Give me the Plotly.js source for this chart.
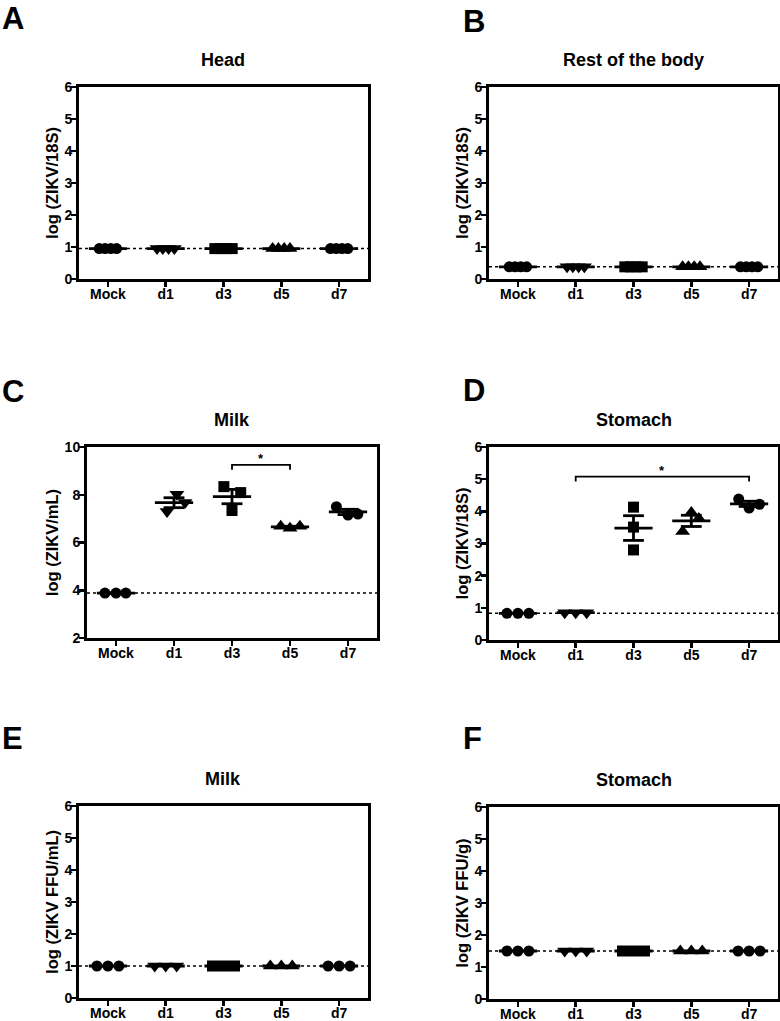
<!DOCTYPE html>
<html>
<head>
<meta charset="utf-8">
<script src="https://cdn.plot.ly/plotly-3.0.1.min.js"></script>
<style>html,body{margin:0;padding:0;background:#fff;}#chart{width:780px;height:1021px;}</style>
</head>
<body>
<div id="chart"></div>
<script>
// ---------------- DATA ----------------
const categories = ['Mock', 'd1', 'd3', 'd5', 'd7'];
const symbols = ['circle', 'triangle-down', 'square', 'triangle-up', 'circle'];

// A: Head, log (ZIKV/18S)
const headValues = [
  [0.95, 0.95, 0.95, 0.95],
  [0.95, 0.95, 0.95, 0.95],
  [0.95, 0.95, 0.95, 0.95],
  [0.95, 0.95, 0.95, 0.95],
  [0.95, 0.95, 0.95, 0.95]
];
const headLimit = 0.95;

// B: Rest of the body, log (ZIKV/18S)
const bodyValues = [
  [0.38, 0.38, 0.38, 0.38],
  [0.38, 0.38, 0.38, 0.38],
  [0.38, 0.38, 0.38, 0.38],
  [0.38, 0.38, 0.38, 0.38],
  [0.38, 0.38, 0.38, 0.38]
];
const bodyLimit = 0.38;

// C: Milk, log (ZIKV/mL)
const milkRnaValues = [
  [3.88, 3.88, 3.88],
  [7.30, 8.02, 7.68],
  [8.34, 8.09, 7.34],
  [6.68, 6.60, 6.68],
  [7.50, 7.15, 7.19]
];
const milkRnaLimit = 3.88;
const milkRnaSig = [2, 3, 9.25];      // from group, to group, bracket level

// D: Stomach, log (ZIKV/18S)
const stomachRnaValues = [
  [0.83, 0.83, 0.83],
  [0.85, 0.85, 0.85],
  [4.13, 3.51, 2.80],
  [3.37, 3.96, 3.78],
  [4.38, 4.10, 4.22]
];
const stomachRnaLimit = 0.83;
const stomachRnaSig = [1, 4, 5.08];

// E: Milk, log (ZIKV FFU/mL)
const milkFfuValues = [
  [1.0, 1.0, 1.0],
  [1.0, 1.0, 1.0],
  [1.0, 1.0, 1.0],
  [1.0, 1.0, 1.0],
  [1.0, 1.0, 1.0]
];
const milkFfuLimit = 1.0;

// F: Stomach, log (ZIKV FFU/g)
const stomachFfuValues = [
  [1.5, 1.5, 1.5],
  [1.5, 1.5, 1.5],
  [1.5, 1.5, 1.5],
  [1.5, 1.5, 1.5],
  [1.5, 1.5, 1.5]
];
const stomachFfuLimit = 1.5;

// ---------------- STYLE (point spread within a group) ----------------
const spread4 = [-0.15, -0.05, 0.05, 0.15];
const spread3 = [-0.19, 0, 0.19];
const spreadC = [[-0.19, 0, 0.17], [-0.12, 0.05, 0.19], [-0.14, 0.15, 0], [-0.16, 0, 0.17], [-0.2, 0, 0.17]];
const spreadD = [spread3, spread3, [0, 0, 0], [-0.15, 0, 0.13], [-0.18, 0, 0.18]];
const markerSize = {'circle': 11, 'square': 11, 'triangle-down': 13, 'triangle-up': 13};

const W = 780, H = 1021;
const FONT = 'Liberation Sans, Arial, sans-serif';

const panels = [
  {letter: 'A', title: 'Head', ytitle: 'log (ZIKV/18S)', values: headValues, limit: headLimit, range: [0, 6], dtick: 1,
   box: [79, 368, 87, 279], spread: () => spread4, letterPos: [0, 19]},
  {letter: 'B', title: 'Rest of the body', ytitle: 'log (ZIKV/18S)', values: bodyValues, limit: bodyLimit, range: [0, 6], dtick: 1,
   box: [489, 778, 87, 279], spread: () => spread4, letterPos: [461, 21]},
  {letter: 'C', title: 'Milk', ytitle: 'log (ZIKV/mL)', values: milkRnaValues, limit: milkRnaLimit, range: [2, 10], dtick: 2,
   box: [87, 377, 447, 638], spread: g => spreadC[g], letterPos: [0, 392], sig: milkRnaSig},
  {letter: 'D', title: 'Stomach', ytitle: 'log (ZIKV/18S)', values: stomachRnaValues, limit: stomachRnaLimit, range: [0, 6], dtick: 1,
   box: [489, 778, 447, 640], spread: g => spreadD[g], letterPos: [461, 391], sig: stomachRnaSig},
  {letter: 'E', title: 'Milk', ytitle: 'log (ZIKV FFU/mL)', values: milkFfuValues, limit: milkFfuLimit, range: [0, 6], dtick: 1,
   box: [79, 368, 806, 998], spread: () => spread3, letterPos: [0, 738]},
  {letter: 'F', title: 'Stomach', ytitle: 'log (ZIKV FFU/g)', values: stomachFfuValues, limit: stomachFfuLimit, range: [0, 6], dtick: 1,
   box: [489, 778, 807, 999], spread: () => spread3, letterPos: [461, 738]}
];

const traces = [];
const layout = {
  width: W, height: H, margin: {l: 0, r: 0, t: 0, b: 0},
  paper_bgcolor: '#fff', plot_bgcolor: '#fff', showlegend: false,
  font: {family: FONT, color: '#000'},
  annotations: []
};

function mean(a) { return a.reduce((s, v) => s + v, 0) / a.length; }
function sem(a) {
  const m = mean(a);
  const v = a.reduce((s, x) => s + (x - m) * (x - m), 0) / (a.length - 1);
  return Math.sqrt(v) / Math.sqrt(a.length);
}

panels.forEach((p, i) => {
  const n = i + 1;
  const xa = 'x' + (n === 1 ? '' : n), ya = 'y' + (n === 1 ? '' : n);
  const xk = 'xaxis' + (n === 1 ? '' : n), yk = 'yaxis' + (n === 1 ? '' : n);
  const [l, r, t, b] = p.box;

  layout[xk] = {
    domain: [l / W, r / W], anchor: ya, range: [-0.5, 4.5],
    tickvals: [0, 1, 2, 3, 4], ticktext: categories,
    ticks: 'outside', ticklen: 5, tickwidth: 2.5, tickcolor: '#000',
    ticklabelstandoff: -5,
    showline: true, linewidth: 3, linecolor: '#000', mirror: true,
    showgrid: false, zeroline: false, fixedrange: true,
    tickfont: {family: FONT, size: 14, weight: 'bold', color: '#000'}
  };
  layout[yk] = {
    domain: [1 - b / H, 1 - t / H], anchor: xa, range: p.range, dtick: p.dtick, tick0: 0,
    ticks: 'outside', ticklen: 5, tickwidth: 2.5, tickcolor: '#000',
    ticklabelstandoff: -4,
    showline: true, linewidth: 3, linecolor: '#000', mirror: true,
    showgrid: false, zeroline: false, fixedrange: true,
    tickfont: {family: FONT, size: 14, weight: 'bold', color: '#000'},
    title: {text: p.ytitle, standoff: 2, font: {family: FONT, size: 16.5, weight: 'bold', color: '#000'}}
  };

  // limit of detection (dotted line)
  traces.push({
    type: 'scatter', mode: 'lines', xaxis: xa, yaxis: ya,
    x: [-0.5, 4.5], y: [p.limit, p.limit], hoverinfo: 'skip',
    line: {color: '#000', width: 1.5, dash: 'dot'}
  });

  p.values.forEach((vals, g) => {
    const sp = p.spread(g);
    const m = mean(vals), s = sem(vals);
    // mean line
    traces.push({
      type: 'scatter', mode: 'lines', xaxis: xa, yaxis: ya, hoverinfo: 'skip',
      x: [g - 0.33, g + 0.33], y: [m, m], line: {color: '#000', width: 2.8}
    });
    // SEM bars
    if (s > 0) {
      traces.push({
        type: 'scatter', mode: 'lines', xaxis: xa, yaxis: ya, hoverinfo: 'skip',
        x: [g - 0.18, g + 0.18, null, g, g, null, g - 0.18, g + 0.18],
        y: [m + s, m + s, null, m + s, m - s, null, m - s, m - s],
        line: {color: '#000', width: 2.8}
      });
    }
    // points
    traces.push({
      type: 'scatter', mode: 'markers', xaxis: xa, yaxis: ya,
      x: vals.map((v, k) => g + sp[k]), y: vals,
      marker: {symbol: symbols[g], size: markerSize[symbols[g]], color: '#000', line: {width: 0}},
      cliponaxis: false
    });
  });

  // significance bracket
  if (p.sig) {
    const [g1, g2, lvl] = p.sig;
    const drop = (p.range[1] - p.range[0]) * 0.025;
    traces.push({
      type: 'scatter', mode: 'lines', xaxis: xa, yaxis: ya, hoverinfo: 'skip',
      x: [g1, g1, g2, g2], y: [lvl - drop, lvl, lvl, lvl - drop],
      line: {color: '#000', width: 1.8}
    });
    layout.annotations.push({
      xref: xa, yref: ya, x: (g1 + g2) / 2, y: lvl, yanchor: 'bottom', yshift: -3, showarrow: false,
      text: '*', font: {family: FONT, size: 13, weight: 'bold', color: '#000'}
    });
  }

  // panel title
  layout.annotations.push({
    xref: 'paper', yref: 'paper', x: (l + r) / 2 / W, y: 1 - (t - 27) / H,
    xanchor: 'center', yanchor: 'middle', showarrow: false,
    text: p.title, font: {family: FONT, size: 18, weight: 'bold', color: '#000'}
  });
  // panel letter
  layout.annotations.push({
    xref: 'paper', yref: 'paper', x: p.letterPos[0] / W, y: 1 - p.letterPos[1] / H,
    xanchor: 'left', yanchor: 'middle', showarrow: false,
    text: p.letter, font: {family: FONT, size: 31, weight: 'bold', color: '#000'}
  });
});

Plotly.newPlot('chart', traces, layout, {displayModeBar: false, staticPlot: true});
</script>
</body>
</html>
